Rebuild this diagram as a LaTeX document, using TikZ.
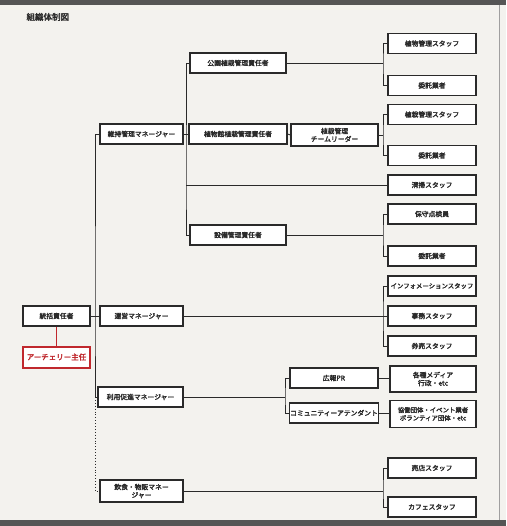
\documentclass[tikz,border=0pt]{standalone}
\usepackage{fontspec}
\newfontfamily\jp{Noto Sans CJK JP}[FakeBold=2.5]
\definecolor{paper}{HTML}{F3F2EE}
\definecolor{ink}{HTML}{2A2A2A}
\definecolor{redink}{HTML}{C0282D}
\begin{document}
\begin{tikzpicture}[x=1pt,y=-1pt,
  box/.style={draw=ink, line width=1.1pt, fill=white, minimum height=20pt, inner sep=1pt,
    font=\jp\fontsize{6.8}{8}\selectfont, text=ink, align=center},
  rbox/.style={box, minimum width=88pt},
  wire/.style={draw=ink, line width=0.9pt},
  dotwire/.style={draw=ink, line width=0.9pt, dotted}]
\useasboundingbox (0,0) rectangle (506,526);
\fill[paper] (0,0) rectangle (506,526);
\fill[ink!80] (0,0) rectangle (506,5);
\fill[ink!80] (0,520) rectangle (506,526);
\draw[ink!45, line width=1pt] (499,5) -- (499,520);
\node[anchor=west, font=\jp\fontsize{8.5}{9}\selectfont, text=ink] (title) at (23,17) {組織体制図};

% level 1
\node[box, minimum width=67pt] (tokatsu) at (56.5,316) {統括責任者};
\node[box, draw=redink, line width=2pt, text=redink, minimum width=67pt, minimum height=21pt,
  font=\jp\fontsize{7.5}{9}\selectfont] (archery) at (56.5,357) {アーチェリー主任};

% level 2
\node[box, minimum width=83pt] (iji) at (141.5,134) {維持管理マネージャー};
\node[box, minimum width=83pt] (unei) at (141.5,316) {運営マネージャー};
\node[box, minimum width=85pt] (riyou) at (140.5,397) {利用促進マネージャー};
\node[box, minimum width=83pt, minimum height=22pt] (inshoku) at (141.5,491) {飲食・物販マネー\\ジャー};

% level 3
\node[box, minimum width=96pt] (koen) at (238,63) {公園植栽管理責任者};
\node[box, minimum width=98pt] (kan) at (238,134) {植物館植栽管理責任者};
\node[box, minimum width=87pt, minimum height=22pt] (leader) at (334.5,135) {植栽管理\\チームリーダー};
\node[box, minimum width=96pt] (setsubi) at (238,235) {設備管理責任者};
\node[box, minimum width=88pt] (koho) at (334,378) {広報PR};
\node[box, minimum width=88pt] (comm) at (334,413) {コミュニティーアテンダント};

% right column
\node[rbox] (r1) at (432,43.5) {植物管理スタッフ};
\node[rbox] (r2) at (432,85.5) {委託業者};
\node[rbox] (r3) at (432,114.5) {植栽管理スタッフ};
\node[rbox] (r4) at (432,155.5) {委託業者};
\node[rbox] (r5) at (432,185) {清掃スタッフ};
\node[rbox] (r6) at (432,214) {保守点検員};
\node[rbox] (r7) at (432,256) {委託業者};
\node[rbox, font=\jp\fontsize{6.4}{8}\selectfont] (r8) at (432,286) {インフォメーションスタッフ};
\node[rbox] (r9) at (432,316) {事務スタッフ};
\node[rbox] (r10) at (432,346) {券売スタッフ};
\node[rbox, minimum width=86pt, minimum height=26pt] (media) at (433,379) {各種メディア\\行政・etc};
\node[rbox, minimum width=86pt, minimum height=27pt, font=\jp\fontsize{6.4}{8}\selectfont] (kyodo) at (433,414) {協働団体・イベント業者\\ボランティア団体・etc};
\node[rbox] (r11) at (432,468) {売店スタッフ};
\node[rbox] (r12) at (432,507) {カフェスタッフ};

% trunk coordinates
\coordinate (t1) at (95,316);
\coordinate (t2) at (186,185);

% level-1 connectors
\draw[redink, line width=1.2pt] (tokatsu.south) -- (archery.north);
\path[wire] (tokatsu.east) -- (unei.west);
\path[wire] (iji.west) -| (t1) |- (riyou.west);
\path[dotwire] (riyou.west -| t1) |- (inshoku.west);

% maintenance branch
\path[wire] (iji.east) -- (kan.west);
\path[wire] (koen.west) -| (t2) |- (setsubi.west);
\path[wire] (t2) -- (r5.west);
\path[wire] (kan.east) -- (leader.west);

% right-side forks
\path[wire] (koen.east) -- (383,63);
\path[wire] (r1.west) -| (383,63) |- (r2.west);
\path[wire] (leader.east) -- (383,135);
\path[wire] (r3.west) -| (383,135) |- (r4.west);
\path[wire] (setsubi.east) -- (383,235);
\path[wire] (r6.west) -| (383,235) |- (r7.west);
\path[wire] (unei.east) -- (r9.west);
\path[wire] (r8.west) -| (383,316) |- (r10.west);
\path[wire] (inshoku.east) -- (383,491);
\path[wire] (r11.west) -| (383,491) |- (r12.west);

% promotion branch
\path[wire] (riyou.east) -- (285,397);
\path[wire] (koho.west) -| (285,397) |- (comm.west);
\path[wire] (koho.east) -- (koho.east -| media.west);
\path[wire] (comm.east) -- (comm.east -| kyodo.west);
\end{tikzpicture}
\end{document}
